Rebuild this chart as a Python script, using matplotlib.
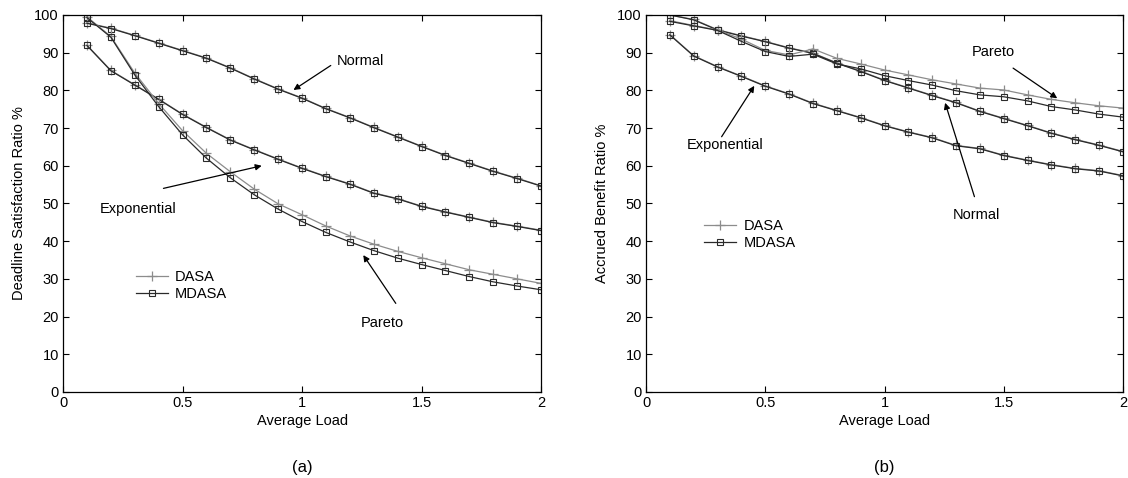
import matplotlib
matplotlib.use("Agg")
import matplotlib.pyplot as plt

plt.rcParams['font.family'] = ['Liberation Sans', 'DejaVu Sans']

load = [0.1, 0.2, 0.3, 0.4, 0.5, 0.6, 0.7, 0.8, 0.9, 1.0,
        1.1, 1.2, 1.3, 1.4, 1.5, 1.6, 1.7, 1.8, 1.9, 2.0]

# (a) deadline satisfaction ratio
dsr_normal_dasa = [97.9, 96.5, 94.6, 92.6, 90.6, 88.6, 86.0, 83.1, 80.4, 78.0,
                   75.2, 72.8, 70.2, 67.7, 65.2, 62.8, 60.7, 58.6, 56.7, 54.7]
dsr_normal_mdasa = [97.8, 96.4, 94.5, 92.5, 90.5, 88.5, 85.9, 83.0, 80.3, 77.9,
                    75.1, 72.7, 70.1, 67.6, 65.1, 62.7, 60.6, 58.5, 56.6, 54.6]
dsr_exp_dasa = [92.0, 85.3, 81.5, 77.7, 73.7, 70.2, 66.9, 64.3, 61.8, 59.4,
                57.2, 55.2, 52.8, 51.3, 49.3, 47.8, 46.4, 45.0, 44.0, 42.9]
dsr_exp_mdasa = [91.9, 85.2, 81.4, 77.6, 73.6, 70.1, 66.8, 64.2, 61.7, 59.3,
                 57.1, 55.1, 52.7, 51.2, 49.2, 47.7, 46.3, 44.9, 43.9, 42.8]
dsr_pareto_dasa = [99.5, 94.3, 84.6, 76.5, 69.3, 63.3, 58.4, 53.8, 49.9, 47.0,
                   44.0, 41.4, 39.2, 37.3, 35.6, 34.0, 32.4, 31.2, 30.0, 28.8]
dsr_pareto_mdasa = [99.3, 94.1, 84.1, 75.7, 68.2, 62.0, 56.8, 52.3, 48.5, 45.2,
                    42.3, 39.8, 37.5, 35.5, 33.8, 32.2, 30.6, 29.2, 28.1, 27.1]

# (b) accrued benefit ratio
abr_normal_dasa = [100.0, 98.8, 96.1, 94.5, 93.0, 91.3, 89.9, 87.3, 85.1, 82.7,
                   80.7, 78.7, 76.8, 74.5, 72.6, 70.7, 68.7, 67.0, 65.5, 63.8]
abr_normal_mdasa = [100.0, 98.7, 96.0, 94.4, 92.9, 91.2, 89.8, 87.2, 85.0, 82.6,
                    80.6, 78.6, 76.7, 74.4, 72.5, 70.6, 68.6, 66.9, 65.4, 63.7]
abr_exp_dasa = [94.8, 89.2, 86.3, 83.8, 81.2, 79.1, 76.6, 74.7, 72.8, 70.7,
                69.0, 67.5, 65.4, 64.6, 62.8, 61.5, 60.3, 59.3, 58.7, 57.4]
abr_exp_mdasa = [94.7, 89.1, 86.2, 83.7, 81.1, 79.0, 76.5, 74.6, 72.7, 70.6,
                 68.9, 67.4, 65.3, 64.5, 62.7, 61.4, 60.2, 59.2, 58.6, 57.3]
abr_pareto_dasa = [98.5, 97.2, 96.0, 93.6, 90.6, 89.4, 91.0, 88.5, 87.0, 85.4,
                   84.1, 82.8, 81.7, 80.6, 80.1, 78.8, 77.6, 76.7, 75.9, 75.3]
abr_pareto_mdasa = [98.3, 97.1, 95.9, 93.0, 90.3, 89.0, 89.6, 87.0, 85.7, 83.9,
                    82.6, 81.4, 79.9, 78.8, 78.3, 77.2, 75.7, 74.8, 73.7, 72.9]

x_ticks = [0, 0.5, 1, 1.5, 2]
x_tick_labels = ['0', '0.5', '1', '1.5', '2']
y_ticks = [0, 10, 20, 30, 40, 50, 60, 70, 80, 90, 100]

DASA_COLOR = '#8c8c8c'
MDASA_COLOR = '#2a2a2a'


def draw_pair(ax, dasa, mdasa, with_label=False):
    ax.plot(load, dasa, '-', marker='+', color=DASA_COLOR, lw=0.9, ms=7,
            mew=0.9, label='DASA' if with_label else None)
    ax.plot(load, mdasa, '-', marker='s', color=MDASA_COLOR, lw=0.9, ms=5,
            mew=0.8, mfc='none', label='MDASA' if with_label else None)


def style_axes(ax, ylabel):
    ax.set_xlim(0, 2)
    ax.set_ylim(0, 100)
    ax.set_xticks(x_ticks)
    ax.set_xticklabels(x_tick_labels)
    ax.set_yticks(y_ticks)
    ax.tick_params(direction='in', top=True, right=True, length=4,
                   width=0.8, labelsize=10.5, pad=3)
    for s in ax.spines.values():
        s.set_linewidth(0.9)
    ax.set_xlabel('Average Load', fontsize=10.5, labelpad=3)
    ax.set_ylabel(ylabel, fontsize=10.5, labelpad=6)


def note(ax, text, xy, xytext, tx, ty):
    ax.annotate('', xy=xy, xytext=xytext,
                arrowprops=dict(arrowstyle='-|>', color='black', lw=0.9,
                                mutation_scale=9, shrinkA=0, shrinkB=0))
    ax.text(tx, ty, text, fontsize=10.5, ha='center', va='center')


fig = plt.figure(figsize=(11.28, 4.78), dpi=100)
ax1 = fig.add_axes([0.0559, 0.180, 0.4238, 0.7887])
ax2 = fig.add_axes([0.5727, 0.180, 0.4229, 0.7887])

# (a)
draw_pair(ax1, dsr_normal_dasa, dsr_normal_mdasa, with_label=True)
draw_pair(ax1, dsr_exp_dasa, dsr_exp_mdasa)
draw_pair(ax1, dsr_pareto_dasa, dsr_pareto_mdasa)
style_axes(ax1, 'Deadline Satisfaction Ratio %')
note(ax1, 'Normal', (0.964, 80.1), (1.12, 86.6), 1.245, 87.8)
note(ax1, 'Exponential', (0.831, 60.0), (0.42, 54.0), 0.314, 48.5)
note(ax1, 'Pareto', (1.256, 36.3), (1.392, 23.5), 1.335, 18.3)
ax1.legend(loc='upper left', bbox_to_anchor=(0.14, 0.34), frameon=False,
           fontsize=10.5, handlelength=2.2, handletextpad=0.5,
           labelspacing=0.25, borderaxespad=0)

# (b)
draw_pair(ax2, abr_normal_dasa, abr_normal_mdasa, with_label=True)
draw_pair(ax2, abr_exp_dasa, abr_exp_mdasa)
draw_pair(ax2, abr_pareto_dasa, abr_pareto_mdasa)
style_axes(ax2, 'Accrued Benefit Ratio %')
note(ax2, 'Exponential', (0.454, 81.2), (0.317, 67.7), 0.331, 65.5)
note(ax2, 'Pareto', (1.724, 77.9), (1.539, 85.9), 1.455, 90.2)
note(ax2, 'Normal', (1.254, 76.7), (1.377, 51.8), 1.384, 47.0)
ax2.legend(loc='upper left', bbox_to_anchor=(0.11, 0.475), frameon=False,
           fontsize=10.5, handlelength=2.2, handletextpad=0.5,
           labelspacing=0.25, borderaxespad=0)

fig.text(0.2678, 0.023, '(a)', fontsize=12, ha='center', va='center')
fig.text(0.7838, 0.023, '(b)', fontsize=12, ha='center', va='center')

fig.savefig('out.png', dpi=100)
